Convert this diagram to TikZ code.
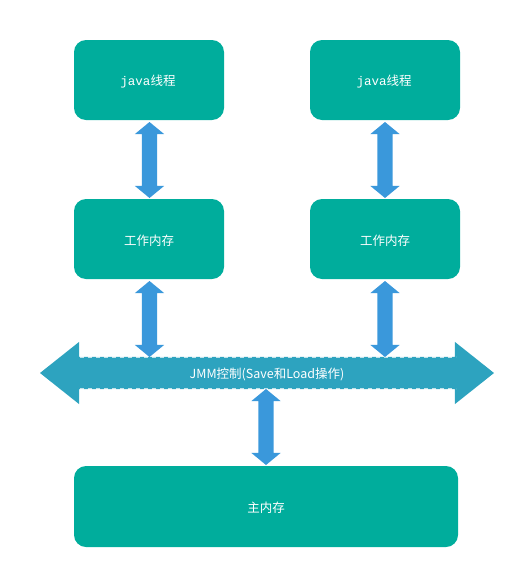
\documentclass[tikz,border=0pt]{standalone}
\usepackage{fontspec}
\setmainfont{Noto Sans CJK SC}
\newfontfamily\monofont{Liberation Mono}
\usetikzlibrary{shapes.arrows}
\definecolor{boxgreen}{HTML}{00AD9C}
\definecolor{arrowblue}{HTML}{3A98DB}
\definecolor{bandblue}{HTML}{2DA3BF}
\begin{document}
\begin{tikzpicture}[x=1pt,y=-1pt,
  membox/.style={fill=boxgreen, rounded corners=12pt, minimum width=150pt,
    minimum height=80pt, inner sep=0pt},
  boxtext/.style={text=white, font=\fontsize{12.5}{14}\selectfont, inner sep=0pt},
  vlink/.style={double arrow, fill=arrowblue, rotate=90, minimum height=76pt,
    minimum width=29pt, inner sep=7.5pt, double arrow head extend=7pt,
    double arrow tip angle=101, draw=none},
  band/.style={double arrow, fill=bandblue, minimum height=454pt,
    minimum width=62pt, inner sep=16pt, double arrow head extend=15pt,
    double arrow tip angle=77, draw=none},
  edgedash/.style={white, opacity=0.7, line width=1.8pt, dash pattern=on 4pt off 4pt}
]
\useasboundingbox (0,0) rectangle (532,584);

% threads and their working memory
\node[membox] (t1) at (149,80) {};
\node[membox] (t2) at (385,80) {};
\node[membox] (w1) at (149,239) {};
\node[membox] (w2) at (385,239) {};
\node[membox, minimum width=384pt, minimum height=81pt] (main) at (266,506.5) {};
\node[boxtext] (t1l) at (148,81.5) {{\monofont java}线程};
\node[boxtext] (t2l) at (384,81.5) {{\monofont java}线程};
\node[boxtext] (w1l) at (149,241) {工作内存};
\node[boxtext] (w2l) at (385,241) {工作内存};
\node[boxtext] (mainl) at (266,508) {主内存};

% JMM control band
\node[band] (jmm) at (267,373) {};
\coordinate (bl1) at (80,357); \coordinate (br1) at (456,357);
\coordinate (bl2) at (80,389); \coordinate (br2) at (456,389);
\draw[edgedash] (bl1) -- (br1);
\draw[edgedash] (bl2) -- (br2);
\node[text=white, font=\fontsize{12.5}{14}\selectfont] (jmmlabel) at (267,374) {JMM控制(Save和Load操作)};

% vertical links
\node[vlink] (a1) at (149.5,160) {};
\node[vlink] (a2) at (385,160) {};
\node[vlink] (a3) at (149.5,319) {};
\node[vlink] (a4) at (385,319) {};
\node[vlink] (a5) at (266,427) {};
\end{tikzpicture}
\end{document}
